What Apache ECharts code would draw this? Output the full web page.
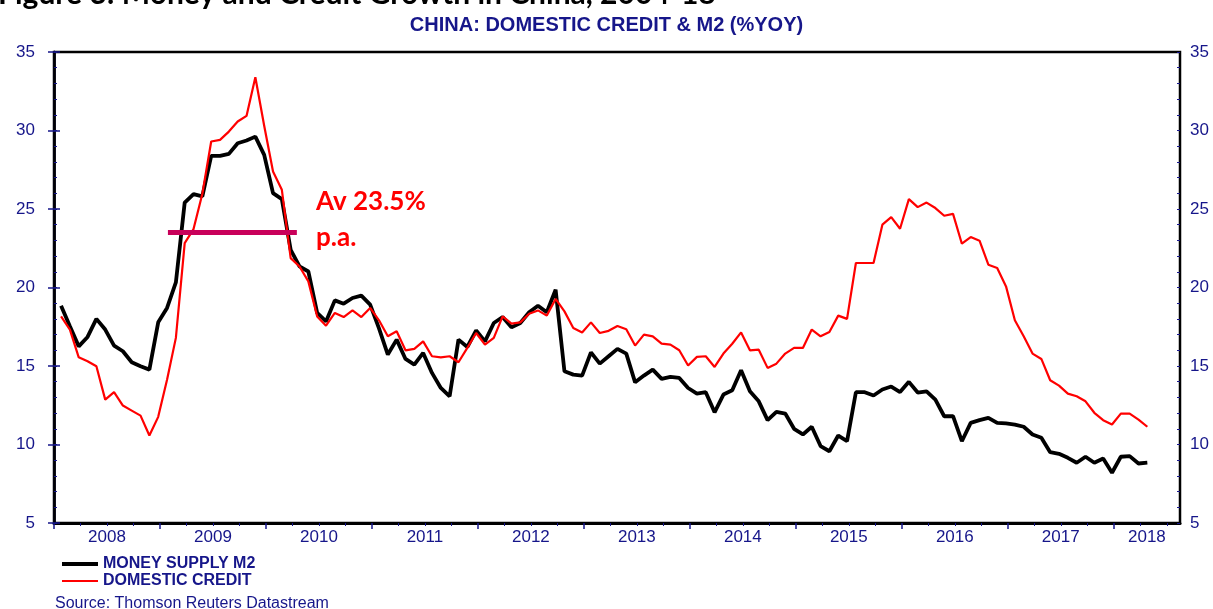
<!DOCTYPE html>
<html>
<head>
<meta charset="utf-8">
<script src="https://cdn.jsdelivr.net/npm/echarts@6.0.0/dist/echarts.min.js"></script>
<style>
  html, body { margin: 0; padding: 0; background: #fff; }
  #chart { width: 1213px; height: 609px; }
</style>
</head>
<body>
<div id="chart"></div>
<script>
// monthly data, Jan 2008 .. Apr 2018 (%yoy)
const years = ['2008', '2009', '2010', '2011', '2012', '2013', '2014', '2015', '2016', '2017', '2018'];

const moneySupplyM2 = [
  18.84, 17.53, 16.25, 16.85, 18.0, 17.32, 16.3, 15.94, 15.24, 14.98, 14.77, 17.78,
  18.7, 20.32, 25.41, 25.95, 25.8, 28.38, 28.38, 28.51, 29.19, 29.36, 29.61, 28.45,
  26.01, 25.63, 22.4, 21.34, 21.02, 18.38, 17.84, 19.18, 18.97, 19.33, 19.48, 18.91,
  17.4, 15.73, 16.68, 15.45, 15.09, 15.83, 14.56, 13.6, 13.07, 16.68, 16.21, 17.27,
  16.57, 17.74, 18.12, 17.46, 17.74, 18.42, 18.84, 18.42, 19.86, 14.66, 14.45, 14.39,
  15.87, 15.15, 15.62, 16.09, 15.79, 13.96, 14.39, 14.77, 14.18, 14.31, 14.24, 13.6,
  13.24, 13.33, 12.05, 13.18, 13.45, 14.73, 13.39, 12.75, 11.55, 12.08, 11.97, 11.0,
  10.64, 11.13, 9.9, 9.57, 10.57, 10.21, 13.33, 13.33, 13.12, 13.5, 13.69, 13.34,
  13.99, 13.31, 13.39, 12.86, 11.8, 11.8, 10.21, 11.38, 11.55, 11.7, 11.38, 11.34,
  11.27, 11.13, 10.64, 10.43, 9.51, 9.41, 9.15, 8.84, 9.22, 8.84, 9.11, 8.2,
  9.22, 9.26, 8.79, 8.84
];

const domesticCredit = [
  18.16, 17.32, 15.55, 15.3, 14.98, 12.86, 13.33, 12.48, 12.16, 11.84, 10.57, 11.76,
  14.13, 16.79, 22.83, 23.72, 25.97, 29.3, 29.4, 29.93, 30.57, 30.93, 33.39, 30.3,
  27.39, 26.22, 21.87, 21.34, 20.39, 18.16, 17.57, 18.38, 18.12, 18.54, 18.12, 18.7,
  17.91, 16.89, 17.21, 16.0, 16.09, 16.57, 15.62, 15.55, 15.62, 15.24, 16.15, 17.1,
  16.36, 16.79, 18.16, 17.7, 17.78, 18.33, 18.54, 18.21, 19.27, 18.48, 17.42, 17.14,
  17.78, 17.1, 17.24, 17.55, 17.34, 16.3, 17.0, 16.89, 16.42, 16.36, 16.0, 15.03,
  15.58, 15.62, 14.94, 15.79, 16.42, 17.14, 16.0, 16.04, 14.88, 15.15, 15.79, 16.15,
  16.15, 17.32, 16.89, 17.17, 18.21, 18.0, 21.56, 21.56, 21.56, 24.0, 24.48, 23.74,
  25.63, 25.12, 25.41, 25.06, 24.57, 24.69, 22.79, 23.21, 22.98, 21.45, 21.24, 20.07,
  17.91, 16.89, 15.79, 15.45, 14.09, 13.75, 13.24, 13.07, 12.75, 12.02, 11.55, 11.27,
  11.97, 11.97, 11.59, 11.13
];

// average 2009 boom, months since Jan 2008
const avgValue = 23.5;
const avgFrom = 12.9;
const avgTo = 27.5;

const xMax = 127.5;  // axis ends mid-2018
const navy = '#16168a';
const font = 'Arial, "Liberation Sans", sans-serif';

// points sit near month end
const toPairs = arr => arr.map((v, i) => [i + 0.8, v]);

const yearStarts = years.map((y, i) => i * 12);
const quarterTicks = [];
for (let m = 3; m < xMax; m += 3) {
  if (m % 12 !== 0) quarterTicks.push(m);
}
// label in the middle of each (visible) year
const labelPos = years.map((y, i) => Math.min(i * 12 + 6, (i * 12 + xMax) / 2));

const chart = echarts.init(document.getElementById('chart'));

const yMain = (pos, lineColor) => ({
  type: 'value', position: pos, min: 5, max: 35, interval: 5,
  axisLine: { show: true, lineStyle: { color: lineColor, width: 2.5 } },
  axisTick: { show: true, length: 6, lineStyle: { color: navy, width: 1.5 } },
  axisLabel: { color: navy, fontSize: 17, fontFamily: font, margin: pos === 'left' ? 19 : 10 },
  splitLine: { show: false }
});
const yMinor = pos => ({
  type: 'value', position: pos, min: 5, max: 35, interval: 1,
  axisLine: { show: false },
  axisTick: { show: true, inside: true, length: 3, lineStyle: { color: navy, width: 1 } },
  axisLabel: { show: false },
  splitLine: { show: false }
});

const option = {
  animation: false,
  backgroundColor: '#fff',
  title: {
    text: 'CHINA: DOMESTIC CREDIT & M2 (%YOY)',
    left: 'center', top: 10,
    textStyle: { color: navy, fontSize: 20, fontWeight: 'bold', fontFamily: font }
  },
  grid: {
    left: 54, right: 33, top: 52, bottom: 86,
    show: true, borderColor: '#000', borderWidth: 2.5, backgroundColor: 'transparent'
  },
  legend: {
    orient: 'vertical', left: 55, top: 551,
    itemWidth: 36, itemHeight: 14, itemGap: 1,
    itemStyle: { opacity: 0 },
    textStyle: { color: navy, fontSize: 16, fontWeight: 'bold', fontFamily: font },
    data: [
      { name: 'MONEY SUPPLY M2', lineStyle: { width: 4 } },
      { name: 'DOMESTIC CREDIT', lineStyle: { width: 2.2 } }
    ]
  },
  xAxis: [
    {
      type: 'value', min: 0, max: xMax,
      axisLine: { show: true, lineStyle: { color: '#000', width: 3 } },
      axisTick: { show: true, customValues: yearStarts, length: 6, lineStyle: { color: navy, width: 1.5 } },
      axisLabel: { show: false },
      splitLine: { show: false }
    },
    {
      type: 'value', min: 0, max: xMax, position: 'bottom',
      axisLine: { show: false },
      axisTick: { show: true, customValues: quarterTicks, length: 3, lineStyle: { color: navy, width: 1 } },
      axisLabel: { show: false },
      splitLine: { show: false }
    },
    {
      type: 'value', min: 0, max: xMax, position: 'bottom',
      axisLine: { show: false },
      axisTick: { show: false },
      axisLabel: {
        customValues: labelPos,
        formatter: v => years[labelPos.indexOf(v)] || '',
        color: navy, fontSize: 17, fontFamily: font, margin: 6
      },
      splitLine: { show: false }
    }
  ],
  yAxis: [yMain('left', '#0a0a50'), yMinor('left'), yMain('right', '#000'), yMinor('right')],
  series: [
    {
      name: 'MONEY SUPPLY M2', type: 'line', symbol: 'none',
      xAxisIndex: 0, yAxisIndex: 0,
      lineStyle: { color: '#000', width: 3.8 }, itemStyle: { color: '#000' },
      data: toPairs(moneySupplyM2)
    },
    {
      name: 'DOMESTIC CREDIT', type: 'line', symbol: 'none',
      xAxisIndex: 0, yAxisIndex: 0,
      lineStyle: { color: '#ff0000', width: 2.2 }, itemStyle: { color: '#ff0000' },
      data: toPairs(domesticCredit),
      markLine: {
        silent: true, symbol: 'none', label: { show: false },
        lineStyle: { color: '#c8005a', width: 5, type: 'solid' },
        data: [[{ coord: [avgFrom, avgValue] }, { coord: [avgTo, avgValue] }]]
      }
    }
  ],
  graphic: [
    {
      type: 'text', left: -2, top: -21,
      style: { text: 'Figure 3: Money and Credit Growth in China, 2004-18', fill: '#000',
        font: 'bold 30px Lato, "Open Sans", sans-serif' }
    },
    {
      type: 'text', left: 316, top: 184,
      style: { text: 'Av 23.5%\np.a.', fill: '#ff0000', lineHeight: 36,
        font: 'bold 26px Lato, "Open Sans", sans-serif' }
    },
    {
      type: 'text', left: 55, top: 596,
      style: { text: 'Source: Thomson Reuters Datastream', fill: navy,
        font: '16px Arial, "Liberation Sans", sans-serif' }
    }
  ]
};

chart.setOption(option);
</script>
</body>
</html>
